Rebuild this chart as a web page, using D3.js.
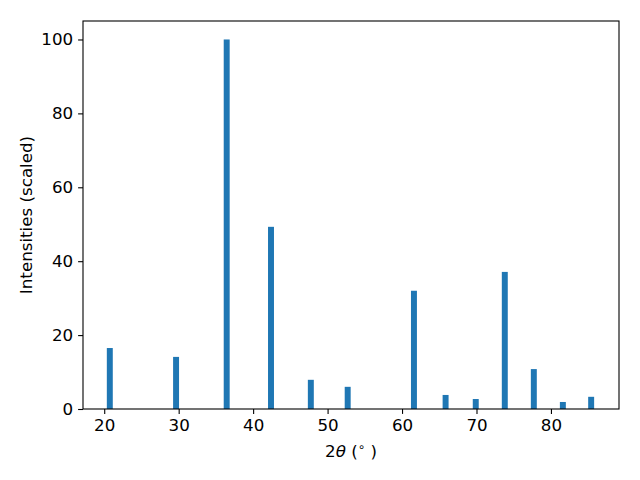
<!DOCTYPE html>
<html><head><meta charset="utf-8">
<script src="https://cdn.jsdelivr.net/npm/d3@7"></script>
<style>body{margin:0;background:#fff}svg{display:block}text{font-family:"DejaVu Sans",sans-serif}</style>
</head><body>
<svg id="c" width="640" height="480"></svg>
<script>
const positions = [20.75, 29.65, 36.45, 42.4, 47.75, 52.7, 61.6, 65.85, 69.9, 73.8, 77.7, 81.6, 85.4];
const intensities = [16.5, 14.1, 100, 49.3, 7.9, 6.0, 32.0, 3.8, 2.7, 37.1, 10.8, 1.9, 3.3];
const xTicks = [20, 30, 40, 50, 60, 70, 80];
const yTicks = [0, 20, 40, 60, 80, 100];
const barWidth = 0.8;

const FS = 16.7;
const svg = d3.select("#c");
const L = 83, R = 619, T = 21, B = 409;
const x = d3.scaleLinear().domain([17.15, 89.14]).range([L, R]);
const y = d3.scaleLinear().domain([0, 105]).range([B, T]);

svg.append("g").selectAll("rect").data(positions).join("rect")
  .attr("x", (d) => x(d - barWidth / 2))
  .attr("width", (d) => x(d + barWidth / 2) - x(d - barWidth / 2))
  .attr("y", (d, i) => y(intensities[i]))
  .attr("height", (d, i) => y(0) - y(intensities[i]))
  .attr("fill", "#1f77b4");

const xa = svg.append("g").attr("transform", `translate(0,${B})`)
  .call(d3.axisBottom(x).tickValues(xTicks).tickSize(4.9).tickPadding(4.9).tickFormat(d3.format("d")));
const ya = svg.append("g").attr("transform", `translate(${L},0)`)
  .call(d3.axisLeft(y).tickValues(yTicks).tickSize(4.9).tickPadding(4.9).tickFormat(d3.format("d")));
[xa, ya].forEach(a => {
  a.attr("font-size", FS).attr("font-family", "DejaVu Sans");
  a.select(".domain").remove();
  a.selectAll("line").attr("stroke", "#000").attr("stroke-width", 1.1);
  a.selectAll("text").style("font-size", FS + "px").attr("fill", "#000");
});

svg.append("rect").attr("x", L).attr("y", T).attr("width", R - L).attr("height", B - T)
  .attr("fill", "none").attr("stroke", "#000").attr("stroke-width", 1.1);

const xl = svg.append("text").attr("x", (L + R) / 2).attr("y", 457).attr("text-anchor", "middle")
  .style("font-size", FS + "px").attr("fill", "#000");
xl.append("tspan").text("2");
xl.append("tspan").attr("font-style", "italic").text("θ");
xl.append("tspan").text(" (");
xl.append("tspan").style("font-size", "11.7px").attr("dy", -6).text("∘");
xl.append("tspan").attr("dy", 6).text(" )");

svg.append("text").attr("transform", `translate(31.5,${(T + B) / 2}) rotate(-90)`)
  .attr("text-anchor", "middle").style("font-size", FS + "px").attr("fill", "#000")
  .text("Intensities (scaled)");
</script>
</body></html>
